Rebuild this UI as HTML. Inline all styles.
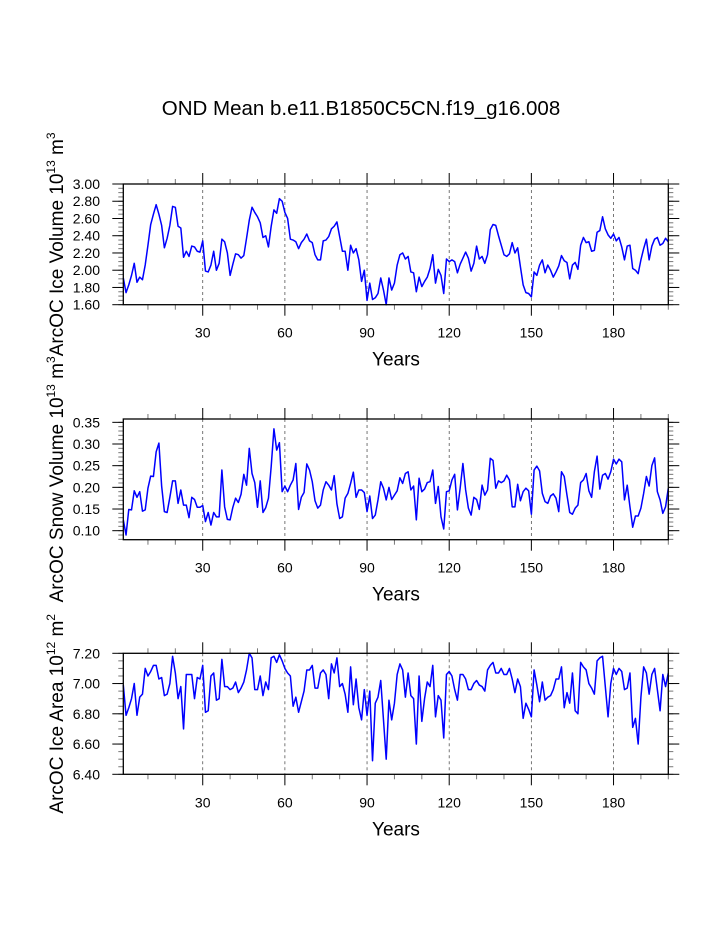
<!DOCTYPE html>
<html><head><meta charset="utf-8"><style>
html,body{margin:0;padding:0;background:#fff;}
svg{display:block;font-family:"Liberation Sans",Arial,sans-serif;}
</style></head><body>
<svg id="chart" width="723" height="935" viewBox="0 0 723 935">
<text x="361" y="115" font-size="20.5" text-anchor="middle">OND Mean b.e11.B1850C5CN.f19_g16.008</text>
</svg>
<script>
const iceVolume = [1.91,1.74,1.83,1.94,2.08,1.86,1.92,1.89,2.06,2.29,2.53,2.65,2.76,2.65,2.52,2.26,2.37,2.52,2.74,2.73,2.51,2.49,2.15,2.22,2.16,2.28,2.27,2.22,2.21,2.34,1.99,1.98,2.06,2.22,2.00,2.08,2.36,2.33,2.20,1.94,2.07,2.19,2.18,2.14,2.17,2.37,2.58,2.73,2.67,2.62,2.55,2.38,2.40,2.27,2.51,2.70,2.66,2.83,2.80,2.67,2.60,2.36,2.35,2.33,2.25,2.32,2.36,2.42,2.34,2.32,2.18,2.12,2.12,2.34,2.35,2.39,2.48,2.51,2.56,2.39,2.22,2.22,2.00,2.29,2.20,2.25,2.12,1.87,2.00,1.65,1.85,1.66,1.68,1.73,1.91,1.77,1.60,1.91,1.77,1.85,2.06,2.18,2.20,2.13,2.16,1.98,1.97,1.75,1.92,1.81,1.87,1.92,2.02,2.18,1.85,2.01,1.94,1.73,2.13,2.10,2.12,2.10,1.97,2.07,2.14,2.21,2.14,1.99,2.08,2.28,2.13,2.16,2.08,2.18,2.47,2.53,2.52,2.40,2.29,2.18,2.16,2.19,2.32,2.20,2.26,2.04,1.83,1.74,1.73,1.69,1.98,1.94,2.06,2.12,1.97,2.06,2.00,1.92,1.98,2.05,2.17,2.11,2.09,1.90,2.06,2.09,2.01,2.29,2.38,2.32,2.33,2.22,2.23,2.44,2.46,2.62,2.48,2.41,2.37,2.42,2.34,2.38,2.27,2.12,2.28,2.29,2.02,2.00,1.96,2.12,2.25,2.36,2.12,2.28,2.36,2.38,2.29,2.31,2.37,2.33];
const snowVolume = [0.125,0.090,0.149,0.148,0.192,0.177,0.190,0.145,0.148,0.198,0.226,0.225,0.282,0.302,0.203,0.144,0.142,0.177,0.215,0.215,0.163,0.194,0.159,0.159,0.130,0.177,0.172,0.154,0.154,0.158,0.121,0.142,0.113,0.142,0.132,0.132,0.240,0.155,0.126,0.125,0.154,0.175,0.165,0.184,0.230,0.205,0.290,0.232,0.211,0.154,0.215,0.142,0.153,0.175,0.248,0.335,0.286,0.303,0.190,0.203,0.190,0.205,0.217,0.255,0.149,0.177,0.188,0.254,0.240,0.213,0.169,0.152,0.159,0.194,0.213,0.205,0.194,0.227,0.162,0.128,0.132,0.175,0.186,0.209,0.235,0.177,0.194,0.194,0.188,0.144,0.180,0.128,0.136,0.171,0.213,0.198,0.171,0.200,0.172,0.182,0.192,0.222,0.209,0.232,0.236,0.194,0.203,0.125,0.221,0.190,0.196,0.211,0.213,0.240,0.163,0.202,0.132,0.104,0.190,0.192,0.217,0.230,0.148,0.198,0.255,0.194,0.152,0.136,0.177,0.172,0.149,0.205,0.182,0.194,0.267,0.262,0.198,0.215,0.211,0.215,0.228,0.217,0.155,0.155,0.207,0.169,0.190,0.198,0.192,0.138,0.240,0.249,0.238,0.186,0.167,0.163,0.180,0.185,0.175,0.144,0.236,0.225,0.182,0.142,0.138,0.152,0.159,0.211,0.217,0.232,0.192,0.177,0.236,0.272,0.196,0.228,0.232,0.219,0.236,0.265,0.254,0.265,0.259,0.171,0.205,0.155,0.108,0.134,0.134,0.152,0.186,0.225,0.203,0.250,0.268,0.190,0.171,0.140,0.155,0.198];
const iceArea = [6.99,6.79,6.84,6.90,7.00,6.79,6.91,6.93,7.10,7.05,7.08,7.12,7.12,7.03,7.04,6.92,6.93,7.00,7.18,7.07,6.90,6.98,6.70,7.06,7.06,7.06,6.90,7.04,7.03,7.12,6.81,6.82,7.05,7.07,6.89,6.90,7.16,6.98,6.98,6.96,6.97,7.01,6.94,6.97,7.01,7.09,7.20,7.17,6.96,6.96,7.05,6.92,7.01,6.96,7.17,7.18,7.14,7.19,7.15,7.10,7.07,7.05,6.85,6.91,6.81,6.88,6.95,7.09,7.09,7.12,6.97,6.97,7.07,7.09,7.06,6.90,7.13,7.07,7.17,6.98,7.00,6.93,6.81,7.11,6.86,7.03,6.84,6.76,6.96,6.79,6.95,6.49,6.87,6.91,7.02,6.76,6.50,6.89,6.76,6.87,7.06,7.13,7.09,6.91,7.07,6.92,6.90,6.60,7.05,6.75,6.90,7.01,6.98,7.12,6.78,6.92,6.89,6.64,7.06,7.08,7.05,6.96,6.89,7.06,7.06,7.03,6.96,6.96,7.00,7.02,6.99,6.98,6.95,7.09,7.12,7.14,7.07,7.07,7.10,7.06,7.06,7.10,7.03,6.94,7.03,6.98,6.77,6.87,6.83,6.78,7.09,6.99,6.88,7.01,6.89,6.91,6.92,6.96,7.03,7.03,7.11,6.84,6.94,6.87,7.07,6.82,6.80,7.14,7.11,7.09,7.00,6.97,6.93,7.15,7.17,7.18,6.98,6.78,7.00,7.10,7.06,7.10,7.08,6.96,6.97,7.07,6.71,6.77,6.60,6.91,7.11,7.07,6.93,7.06,7.10,6.96,6.82,7.06,6.98,7.07];
const xMajorTicks = [30,60,90,120,150,180];
const iceVolumeTicks = [1.60,1.80,2.00,2.20,2.40,2.60,2.80,3.00];
const snowVolumeTicks = [0.10,0.15,0.20,0.25,0.30,0.35];
const iceAreaTicks = [6.40,6.60,6.80,7.00,7.20];

const NS = 'http://www.w3.org/2000/svg';
const svg = document.getElementById('chart');
const X0 = 123.3, X1 = 668.3, YMIN = 1, YMAX = 200;
function xScale(yr){ return X0 + (yr - YMIN) / (YMAX - YMIN) * (X1 - X0); }
function mk(tag, attrs, parent){
  const e = document.createElementNS(NS, tag);
  for (const k in attrs) e.setAttribute(k, attrs[k]);
  (parent || svg).appendChild(e);
  return e;
}
function panel(cfg){
  const g = mk('g', {});
  
  
  const top = cfg.top, bot = cfg.bottom;
  function yScale(v){ return bot - (v - cfg.vmin) / (cfg.vmax - cfg.vmin) * (bot - top); }
  xMajorTicks.forEach(t => {
    const l = mk('line', {x1: xScale(t), x2: xScale(t), y1: top, y2: bot, stroke: '#555', 'stroke-width': 0.8, 'stroke-dasharray': '3,3'}, g);
    
    
  });
  for (let t = 10; t <= 200; t += 10) {
    const major = t % 30 === 0;
    const len = major ? 11 : 5;
    const x = xScale(t);
    mk('line', {x1: x, x2: x, y1: bot, y2: bot + len, stroke: major ? '#000' : '#777', 'stroke-width': 1}, g);
    mk('line', {x1: x, x2: x, y1: top, y2: top - len, stroke: major ? '#000' : '#777', 'stroke-width': 1}, g);
  }
  xMajorTicks.forEach(t => {
    const tx = mk('text', {x: xScale(t), y: bot + 33, 'font-size': 14, 'text-anchor': 'middle'}, g);
    tx.textContent = String(t);
    
    
  });
  const first = Math.ceil(cfg.vmin / cfg.minor - 1e-6);
  const last = Math.floor(cfg.vmax / cfg.minor + 1e-6);
  for (let i = first; i <= last; i++) {
    const y = yScale(i * cfg.minor);
    mk('line', {x1: X0, x2: X0 - 5, y1: y, y2: y, stroke: '#777', 'stroke-width': 1}, g);
    mk('line', {x1: X1, x2: X1 + 5, y1: y, y2: y, stroke: '#777', 'stroke-width': 1}, g);
  }
  cfg.ticks.forEach(v => {
    const y = yScale(v);
    mk('line', {x1: X0, x2: X0 - 11, y1: y, y2: y, stroke: '#000', 'stroke-width': 1}, g);
    mk('line', {x1: X1, x2: X1 + 11, y1: y, y2: y, stroke: '#000', 'stroke-width': 1}, g);
    const tx = mk('text', {x: 100, y: y + 5, 'font-size': 14, 'text-anchor': 'end'}, g);
    tx.textContent = v.toFixed(2);
    
    
  });
  const pts = cfg.data.map((v, i) => xScale(i + 1).toFixed(2) + ',' + yScale(v).toFixed(2)).join(' ');
  const pl = mk('polyline', {points: pts, fill: 'none', stroke: '#0000ff', 'stroke-width': 1.5, 'stroke-linejoin': 'round'}, g);
  
  
  const fr = mk('rect', {x: X0, y: top, width: X1 - X0, height: bot - top, fill: 'none', stroke: '#000', 'stroke-width': 1.3}, g);
  
  
  const xt = mk('text', {x: 396, y: bot + 61, 'font-size': 19, 'text-anchor': 'middle'}, g);
  xt.textContent = 'Years';
  
  
  const cy = (top + bot) / 2;
  const yt = mk('text', {x: 0, y: 0, 'font-size': 19, 'text-anchor': 'middle', transform: 'translate(63,' + cy + ') rotate(-90)'}, g);
  
  
  cfg.label.forEach(p => {
    const s = mk('tspan', p[1] ? {'font-size': 12, dy: -8} : {dy: p[2] ? 8 : 0}, yt);
    s.textContent = p[0];
  });
}
panel({name: 'ice-volume-panel', top: 184, bottom: 304.7, vmin: 1.6, vmax: 3.0, minor: 0.05, ticks: iceVolumeTicks, data: iceVolume,
  label: [['ArcOC Ice Volume 10',0,0],['13',1],[' m',0,1],['3',1]]});
panel({name: 'snow-volume-panel', top: 419, bottom: 539.7, vmin: 0.0792, vmax: 0.3577, minor: 0.01, ticks: snowVolumeTicks, data: snowVolume,
  label: [['ArcOC Snow Volume 10',0,0],['13',1],[' m',0,1],['3',1]]});
panel({name: 'ice-area-panel', top: 653.3, bottom: 774.3, vmin: 6.4, vmax: 7.2, minor: 0.05, ticks: iceAreaTicks, data: iceArea,
  label: [['ArcOC Ice Area 10',0,0],['12',1],[' m',0,1],['2',1]]});
</script>
</body></html>
